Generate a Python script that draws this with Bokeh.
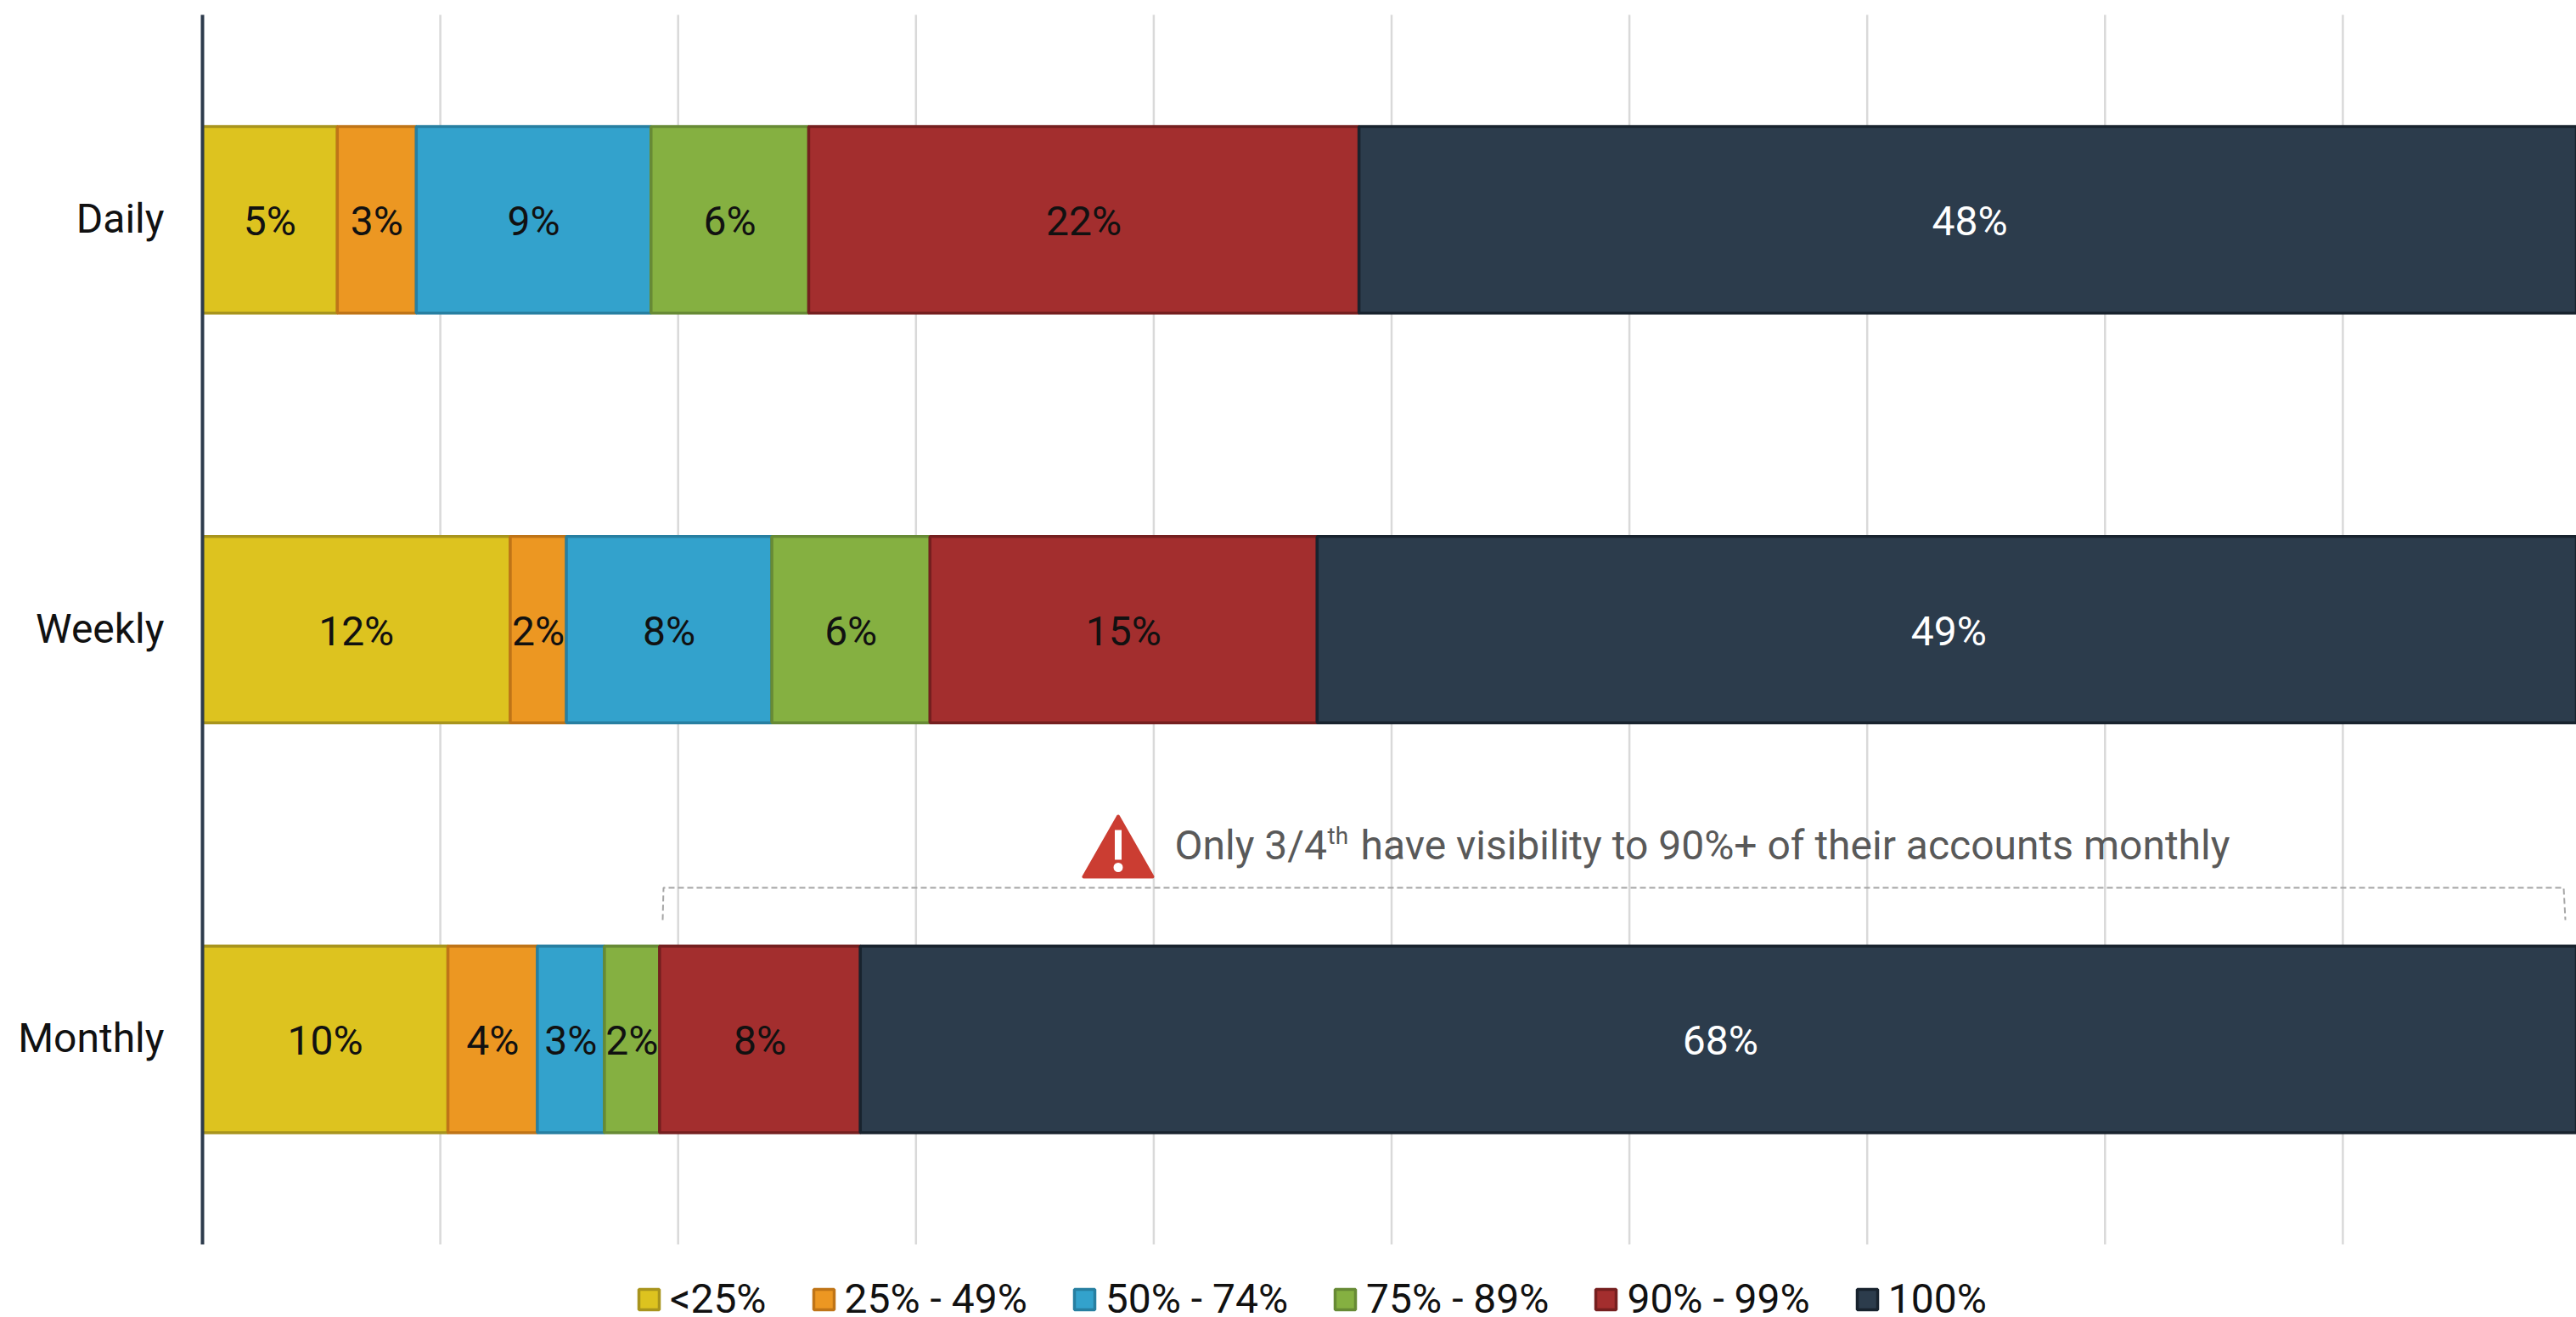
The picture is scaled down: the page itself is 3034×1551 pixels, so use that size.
from bokeh.plotting import figure
from bokeh.embed import file_html
from bokeh.resources import INLINE
from bokeh.models import Range1d, ColumnDataSource, Legend, LegendItem, FixedTicker
from bokeh.core.properties import value

# ---- data ----
periods = ["Daily", "Weekly", "Monthly"]
series = ["<25%", "25% - 49%", "50% - 74%", "75% - 89%", "90% - 99%", "100%"]
# bar segment lengths (share of full bar)
under25 = [5.67, 12.94, 10.32]
p25_49 = [3.32, 2.36, 3.76]
p50_74 = [9.87, 8.64, 2.82]
p75_89 = [6.63, 6.65, 2.32]
p90_99 = [23.14, 16.28, 8.44]
p100 = [51.37, 53.13, 72.34]
# printed labels
lab_under25 = ["5%", "12%", "10%"]
lab_25_49 = ["3%", "2%", "4%"]
lab_50_74 = ["9%", "8%", "3%"]
lab_75_89 = ["6%", "6%", "2%"]
lab_90_99 = ["22%", "15%", "8%"]
lab_100 = ["48%", "49%", "68%"]
tick_step = 10
note_a = "Only 3/4"
note_b = "th"
note_c = "have visibility to 90%+ of their accounts monthly"

fills = ["#DDC31F", "#EC9722", "#33A2CC", "#85B041", "#A32E2E", "#2C3C4C"]
lines = ["#A8941D", "#BF7417", "#277FA1", "#678A35", "#751F1F", "#18232E"]
text_cols = ["#111111"] * 5 + ["#FFFFFF"]
FONT = "Roboto"
FS = "48px"

W, H = 3034, 1551
AX_X, TOP, BOT = 238, 17, 1465

keys = ["a", "b", "c", "d", "e", "f"]
vals = [under25, p25_49, p50_74, p75_89, p90_99, p100]
labs = [lab_under25, lab_25_49, lab_50_74, lab_75_89, lab_90_99, lab_100]

n = len(periods)
pos = [n - 0.5 - i for i in range(n)]
data = {"pos": pos}
for k, v in zip(keys, vals):
    data[k] = v
src = ColumnDataSource(data)

unit = (BOT - TOP) / n
xmax = (W - AX_X) / 28.01
p = figure(width=W, height=H, output_backend="svg", toolbar_location=None,
           x_range=Range1d(0, xmax), y_range=Range1d(-(H - BOT) / unit, n + TOP / unit),
           min_border_left=AX_X, min_border_right=0, min_border_top=0,
           min_border_bottom=0, outline_line_color=None, background_fill_color="white")
p.extra_x_ranges = {"px": Range1d(AX_X, W)}
p.extra_y_ranges = {"px": Range1d(H, 0)}

p.xaxis.visible = False
p.grid.visible = False
grid_ticks = list(range(tick_step, 101, tick_step))
p.segment(x0=grid_ticks, x1=grid_ticks, y0=[0] * len(grid_ticks), y1=[n] * len(grid_ticks),
          line_color="#D9D9D9", line_width=2.5, level="underlay")

ax = p.yaxis[0]
lab_pos = [q + 1.5 / unit for q in pos]
ax.ticker = FixedTicker(ticks=lab_pos)
ax.bounds = (0, n)
ax.major_label_overrides = {q: name for q, name in zip(lab_pos, periods)}
ax.axis_line_color = "#2D3B4C"
ax.axis_line_width = 4
ax.major_tick_line_color = None
ax.minor_tick_line_color = None
ax.major_tick_out = 0
ax.major_label_standoff = 45
ax.major_label_text_font = FONT
ax.major_label_text_font_size = FS
ax.major_label_text_color = "#111111"

rs = p.hbar_stack(keys, y="pos", height=0.455, source=src,
                  fill_color=fills, line_color=lines, line_width=3.5)

items = []
for r, name in zip(rs, series):
    items.append(LegendItem(label=name, renderers=[r]))

# segment labels
for i, k in enumerate(keys):
    xs, ys, ts = [], [], []
    for j in range(n):
        start = sum(vals[m][j] for m in range(i))
        xs.append(start + vals[i][j] / 2)
        ys.append(pos[j] - 1.5 / unit)
        ts.append(labs[i][j])
    p.text(x=xs, y=ys, text=ts, text_align="center", text_baseline="middle",
           text_color=text_cols[i], text_font=value(FONT), text_font_size=FS)

# bracket (page-pixel coordinates via extra ranges)
p.line(x=[780, 781, 3019, 3021], y=[1083, 1045, 1045, 1083], line_color="#A6A6A6",
       line_width=2, line_dash="7 4", x_range_name="px", y_range_name="px")

# warning icon
p.patch(x=[1316.5, 1276, 1357], y=[961, 1032, 1032], fill_color="#CB3D32", line_color="#CB3D32",
        line_width=4, line_join="round", x_range_name="px", y_range_name="px")
p.quad(left=[1312.5], right=[1320.5], top=[977], bottom=[1012], fill_color="white", line_color=None,
       x_range_name="px", y_range_name="px")
p.scatter(x=[1316.5], y=[1021], size=11, marker="circle", fill_color="white", line_color=None,
          x_range_name="px", y_range_name="px")

# annotation text
for tx, ty, t, fs in [(1383, 995, note_a, "48px"), (1563, 984, note_b, "28px"), (1602, 995, note_c, "48px")]:
    p.text(x=[tx], y=[ty], text=[t], text_align="left", text_baseline="middle", text_color="#595959",
           text_font=value(FONT), text_font_size=fs, x_range_name="px", y_range_name="px")

legend = Legend(items=items, orientation="horizontal", location=(749 - AX_X, H - 1546 - 12),
                glyph_width=30, glyph_height=30, label_standoff=10, spacing=52, padding=0, margin=0,
                border_line_color=None, background_fill_alpha=0,
                label_text_font=FONT, label_text_font_size=FS, label_text_color="#111111")
p.add_layout(legend, "center")

open("out.html", "w").write(file_html(p, INLINE))
